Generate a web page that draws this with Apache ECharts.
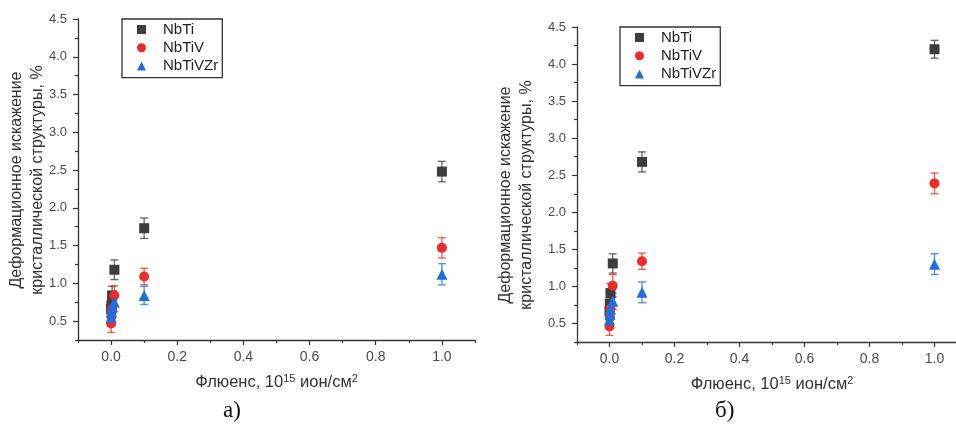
<!DOCTYPE html>
<html>
<head>
<meta charset="utf-8">
<script src="https://cdn.jsdelivr.net/npm/echarts@6/dist/echarts.min.js"></script>
<style>
  html, body { margin: 0; padding: 0; background: #fff; }
  #chart { width: 956px; height: 425px; }
</style>
</head>
<body>
<div id="chart"></div>
<script>
// Fluence points, 10^15 ion/cm^2
const fluence = [0, 0.001, 0.003, 0.01, 0.1, 1];

// Panel а): lattice strain distortion, %
const aNbTi = [0.66, 0.71, 0.84, 1.18, 1.73, 2.48];
const aNbTiErr = [0.12, 0.12, 0.12, 0.13, 0.135, 0.135];
const aNbTiV = [0.47, 0.56, 0.66, 0.84, 1.09, 1.47];
const aNbTiVErr = [0.12, 0.12, 0.12, 0.13, 0.11, 0.135];
const aNbTiVZr = [0.55, 0.62, 0.68, 0.75, 0.84, 1.12];
const aNbTiVZrErr = [0.11, 0.11, 0.11, 0.12, 0.12, 0.14];

// Panel б)
const bNbTi = [0.66, 0.77, 0.91, 1.31, 2.68, 4.20];
const bNbTiErr = [0.12, 0.12, 0.13, 0.13, 0.135, 0.12];
const bNbTiV = [0.46, 0.58, 0.70, 1.01, 1.34, 2.39];
const bNbTiVErr = [0.12, 0.12, 0.12, 0.15, 0.11, 0.14];
const bNbTiVZr = [0.55, 0.62, 0.70, 0.80, 0.92, 1.30];
const bNbTiVZrErr = [0.11, 0.11, 0.11, 0.11, 0.14, 0.14];

const names = ['NbTi', 'NbTiV', 'NbTiVZr'];
const symbols = ['rect', 'circle', 'triangle'];
const colors = ['#3d3d3d', '#ee2b2b', '#1f6ee0'];

const xMajorTicks = [0, 0.2, 0.4, 0.6, 0.8, 1.0];
const xMinorTicks = [-0.1, 0.1, 0.3, 0.5, 0.7, 0.9, 1.1];
const yMajorTicks = [0.5, 1.0, 1.5, 2.0, 2.5, 3.0, 3.5, 4.0, 4.5];
const yMinorTicks = [0.25, 0.75, 1.25, 1.75, 2.25, 2.75, 3.25, 3.75, 4.25];

const xTitle = 'Флюенс, 10{sup|15} ион/см{sup|2}';
const yTitle = 'Деформационное искажение\nкристаллической структуры, %';

const X_MIN = -0.1, X_MAX = 1.1, Y_MIN = 0.25, Y_MAX = 4.5;
const axisColor = '#333';
const labelColor = '#4a4a4a';
const font = 'Arial, "Liberation Sans", sans-serif';

// Plot areas of the two panels; the minor-tick grids share the same boxes
const boxA = { left: 78, top: 19, width: 397, height: 321 };
const boxB = { left: 577, top: 27, width: 390, height: 315 };

function majorX(grid, nameGap) {
  return {
    type: 'value', gridIndex: grid, min: X_MIN, max: X_MAX, position: 'bottom',
    name: xTitle, nameLocation: 'middle', nameGap: nameGap,
    nameTextStyle: {
      fontFamily: font, fontSize: 16.5, color: '#333',
      rich: { sup: { fontFamily: font, fontSize: 11, color: '#333', verticalAlign: 'top', padding: [0, 0, 8, 0] } }
    },
    axisLine: { show: true, onZero: false, lineStyle: { color: axisColor, width: 1.3 } },
    axisTick: { show: true, length: 5, lineStyle: { color: axisColor, width: 1.2 }, customValues: xMajorTicks },
    axisLabel: { show: true, customValues: xMajorTicks, formatter: v => v.toFixed(1),
      fontFamily: font, fontSize: 14, color: labelColor, margin: 10 },
    splitLine: { show: false }
  };
}
function minorX(grid) {
  return {
    type: 'value', gridIndex: grid, min: X_MIN, max: X_MAX, position: 'bottom',
    axisLine: { show: false, onZero: false },
    axisTick: { show: true, length: 3, lineStyle: { color: axisColor, width: 1.2 }, customValues: xMinorTicks },
    axisLabel: { show: false }, splitLine: { show: false }
  };
}
function majorY(grid) {
  return {
    type: 'value', gridIndex: grid, min: Y_MIN, max: Y_MAX, position: 'left',
    axisLine: { show: true, onZero: false, lineStyle: { color: axisColor, width: 1.3 } },
    axisTick: { show: true, length: 5, lineStyle: { color: axisColor, width: 1.2 }, customValues: yMajorTicks },
    axisLabel: { show: true, customValues: yMajorTicks, formatter: v => v.toFixed(1),
      fontFamily: font, fontSize: 13, color: labelColor, margin: 11 },
    splitLine: { show: false }
  };
}
function minorY(grid) {
  return {
    type: 'value', gridIndex: grid, min: Y_MIN, max: Y_MAX, position: 'left',
    axisLine: { show: false, onZero: false },
    axisTick: { show: true, length: 3, lineStyle: { color: axisColor, width: 1.2 }, customValues: yMinorTicks },
    axisLabel: { show: false }, splitLine: { show: false }
  };
}

function errorBars(axis, vals, errs, color) {
  return {
    type: 'custom', xAxisIndex: axis, yAxisIndex: axis, silent: true, z: 1,
    data: fluence.map((f, i) => [f, vals[i] - errs[i], vals[i] + errs[i]]),
    renderItem(params, api) {
      const lo = api.coord([api.value(0), api.value(1)]);
      const hi = api.coord([api.value(0), api.value(2)]);
      const w = 4;
      const st = { stroke: color, lineWidth: 1.4, opacity: 0.75 };
      return {
        type: 'group', children: [
          { type: 'line', shape: { x1: hi[0], y1: hi[1], x2: lo[0], y2: lo[1] }, style: st },
          { type: 'line', shape: { x1: hi[0] - w, y1: hi[1], x2: hi[0] + w, y2: hi[1] }, style: st },
          { type: 'line', shape: { x1: lo[0] - w, y1: lo[1], x2: lo[0] + w, y2: lo[1] }, style: st }
        ]
      };
    }
  };
}

function points(name, axis, vals, k) {
  return {
    name: name, type: 'scatter', xAxisIndex: axis, yAxisIndex: axis, z: 3,
    symbol: symbols[k], symbolSize: k === 2 ? 11 : 10,
    itemStyle: { color: colors[k], opacity: 1 },
    data: fluence.map((f, i) => [f, vals[i]])
  };
}

const panelA = [aNbTi, aNbTiV, aNbTiVZr], panelAErr = [aNbTiErr, aNbTiVErr, aNbTiVZrErr];
const panelB = [bNbTi, bNbTiV, bNbTiVZr], panelBErr = [bNbTiErr, bNbTiVErr, bNbTiVZrErr];

const series = [];
[0, 1, 2].forEach(k => {
  series.push(errorBars(0, panelA[k], panelAErr[k], colors[k]));
  series.push(points(names[k], 0, panelA[k], k));
  series.push(errorBars(1, panelB[k], panelBErr[k], colors[k]));
  series.push(points(names[k], 1, panelB[k], k));
});

function legendAt(left, top) {
  return {
    left: left, top: top, orient: 'vertical',
    data: names.map((n, k) => ({ name: n, icon: symbols[k] })),
    itemWidth: 9, itemHeight: 9, itemGap: 3.3,
    padding: [3, 4, 4, 15],
    borderColor: '#333', borderWidth: 1.3,
    textStyle: { fontFamily: font, fontSize: 15, color: '#222', padding: [0, 0, 0, 12] },
    selectedMode: false
  };
}

function yTitleText(x, y) {
  return {
    type: 'text', x: x, y: y, rotation: Math.PI / 2,
    style: {
      text: yTitle, font: '16px ' + font, fill: '#333', lineHeight: 21,
      align: 'center', verticalAlign: 'middle'
    }
  };
}

const chart = echarts.init(document.getElementById('chart'), null, { renderer: 'canvas' });
chart.setOption({
  backgroundColor: '#fff',
  animation: false,
  grid: [boxA, boxB, boxA, boxB].map(b => Object.assign({ containLabel: false, outerBoundsMode: 'none' }, b)),
  xAxis: [majorX(0, 33), majorX(1, 33), minorX(2), minorX(3)],
  yAxis: [majorY(0), majorY(1), minorY(2), minorY(3)],
  legend: [legendAt(122, 19), legendAt(620, 27)],
  graphic: [
    yTitleText(27.5, 180),
    yTitleText(516, 195),
    { type: 'text', left: 223, top: 399, style: { text: 'а)', font: '23px "Liberation Serif", "Times New Roman", serif', fill: '#111' } },
    { type: 'text', left: 715, top: 399, style: { text: 'б)', font: '23px "Liberation Serif", "Times New Roman", serif', fill: '#111' } }
  ],
  series: series
});
</script>
</body>
</html>
